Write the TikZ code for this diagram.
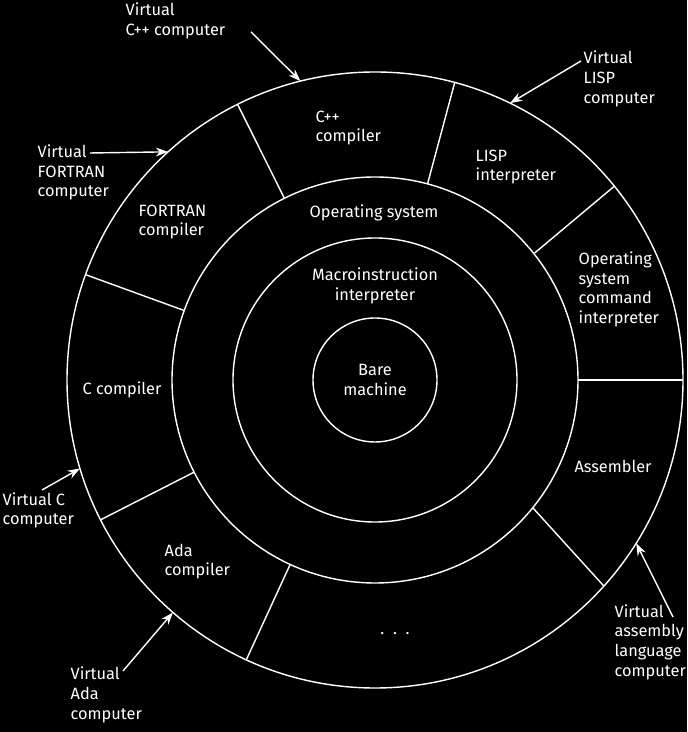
\documentclass[tikz,border=0pt]{standalone}
\usepackage{fontspec}
\setmainfont{Fira Sans}
\usetikzlibrary{arrows.meta}

\begin{document}
\begin{tikzpicture}[x=0.02cm,y=0.02cm,white,line width=0.8pt,
    every node/.style={inner sep=0pt,font=\fontsize{9.3}{11.2}\selectfont},
    ptr/.style={-{Stealth[length=7pt,width=5pt]}}]
  \fill[black] (-375,-352) rectangle (312,380);
  \useasboundingbox (-375,-352) rectangle (312,380);

  % rings
  \draw (0,0) circle (62);
  \draw (0,0) circle (142);
  \draw (0,0) circle (203);
  \draw (0,0) circle (308);

  % sectors of the outer ring
  \draw (116.5:203) -- (116.5:308);
  \draw (75:203)    -- (75:308);
  \draw (38.5:204)  -- (39:308);
  \draw (0:203)     -- (0:308);
  \draw (-39:203)   -- (-42:308);
  \draw (-114.7:203) -- (-114.7:308);
  \draw (-153:203)  -- (-153:308);
  \draw (160:203)   -- (160:308);

  \node (bare)  at (0,0)   [align=center] {Bare\\machine};
  \node (macro) at (0,94)  [align=center] {Macroinstruction\\interpreter};
  \node (os)    at (-1,167) {Operating system};

  \node (cpp)   at (-60,252)   [anchor=west,align=left] {C++\\compiler};
  \node (lisp)  at (100,213)   [anchor=west,align=left] {LISP\\interpreter};
  \node (oscmd) at (203,90.5)  [anchor=west,align=left] {Operating\\system\\command\\interpreter};
  \node (asm)   at (238,-86)   {Assembler};
  \node (more)  at (20,-254)   {.\ \ .\ \ .};
  \node (ada)   at (-211,-181.5) [anchor=west,align=left] {Ada\\compiler};
  \node (ccomp) at (-253,-10)  {C compiler};
  \node (fort)  at (-237,158)  [anchor=west,align=left] {FORTRAN\\compiler};

  % virtual machines
  \node (vcpp)  at (-250,359)  [anchor=west,align=left] {Virtual\\C++ computer};
  \node (vfort) at (-338,207.5) [anchor=west,align=left] {Virtual\\FORTRAN\\computer};
  \node (vlisp) at (208,301)   [anchor=west,align=left] {Virtual\\LISP\\computer};
  \node (vc)    at (-373,-130.5) [anchor=west,align=left] {Virtual C\\computer};
  \node (vada)  at (-305,-315) [anchor=west,align=left] {Virtual\\Ada\\computer};
  \node (vasm)  at (239,-262)  [anchor=west,align=left] {Virtual\\assembly\\language\\computer};

  \coordinate (acpp)  at (-124,348);
  \coordinate (afort) at (-285,227);
  \coordinate (alisp) at (206,319);
  \coordinate (ac)    at (-333,-110);
  \coordinate (aada)  at (-252,-291);
  \coordinate (aasm)  at (298,-237);

  \draw[ptr] (acpp)  -- (104:308);
  \draw[ptr] (afort) -- (132.2:308);
  \draw[ptr] (alisp) -- (64:308);
  \draw[ptr] (ac)    -- (196.7:308);
  \draw[ptr] (aada)  -- (-131:308);
  \draw[ptr] (aasm)  -- (-32:308);
\end{tikzpicture}
\end{document}
